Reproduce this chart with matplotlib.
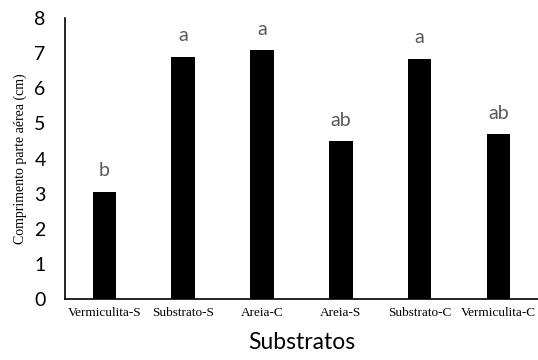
import numpy as np
import matplotlib.pyplot as plt

substratos = ['Vermiculita-S', 'Substrato-S', 'Areia-C', 'Areia-S', 'Substrato-C', 'Vermiculita-C']
comprimento = [3.05, 6.9, 7.08, 4.5, 6.84, 4.69]
letras = ['b', 'a', 'a', 'ab', 'a', 'ab']

fig = plt.figure(figsize=(5.38, 3.6), dpi=100)
ax = fig.add_axes([0.1208, 0.169, 0.879, 0.781])

x = np.arange(len(substratos))
barras = ax.bar(x, comprimento, width=0.30, color='black')

# letras de significancia acima das barras
for xi, v, l in zip(x, comprimento, letras):
    ax.annotate(l, (xi, v), xytext=(0, 9), textcoords='offset points',
                ha='center', va='bottom', fontsize=14, color='#595959', family='Lato')

ax.set_xlim(-0.5, len(substratos) - 0.5)
ax.set_ylim(0, 8)
ax.set_yticks(range(0, 9))
ax.set_xticks(x)
ax.set_xticklabels(substratos, family='Liberation Serif', fontsize=9.5)
for t in ax.get_yticklabels():
    t.set_family('Lato')
    t.set_fontsize(14)
ax.tick_params(length=0, pad=6)
ax.tick_params(axis='y', pad=14)

ax.spines['top'].set_visible(False)
ax.spines['right'].set_visible(False)
ax.spines['left'].set_linewidth(1.2)
ax.spines['bottom'].set_linewidth(1.2)

ax.set_ylabel('Comprimento parte aérea (cm)', family='Liberation Serif', fontsize=10, labelpad=5)
ax.set_xlabel('Substratos', family='Lato', fontsize=16.5, labelpad=9)

fig.savefig('out.png', dpi=100)
